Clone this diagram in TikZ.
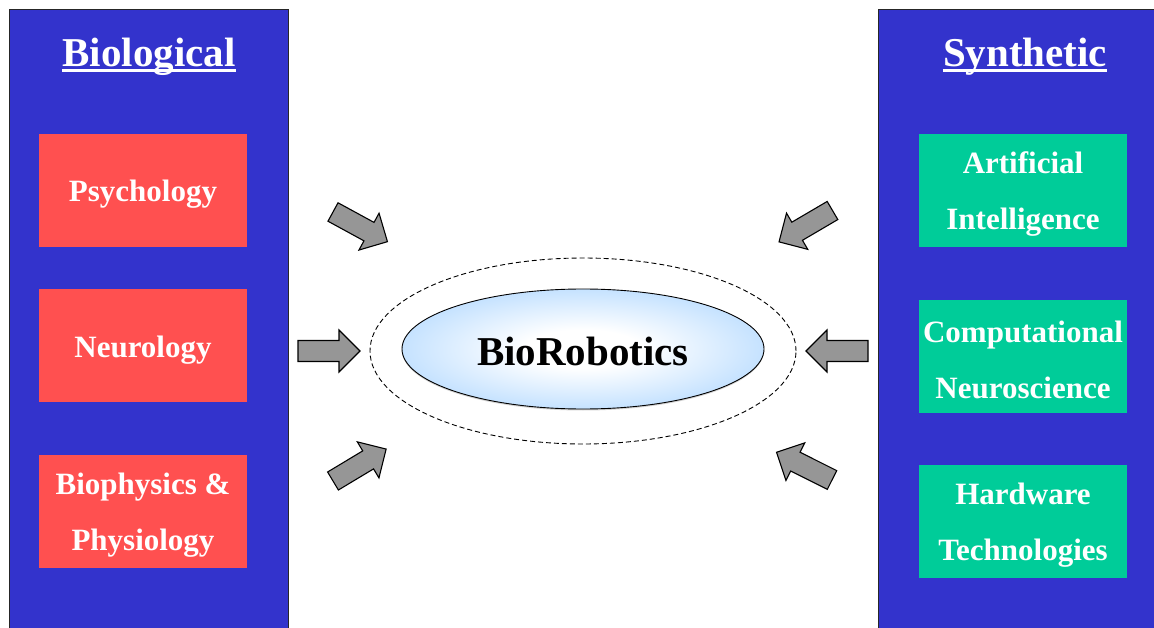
\documentclass[tikz,border=0pt]{standalone}
\usepackage{fontspec}
\setmainfont{Liberation Serif}
\usetikzlibrary{shapes.geometric,shadows}
\definecolor{panelblue}{HTML}{3333CC}
\definecolor{boxred}{HTML}{FF5050}
\definecolor{boxgreen}{HTML}{00CC99}
\definecolor{arrowgray}{HTML}{969696}
\definecolor{ellblue}{HTML}{99CCFF}
\pgfdeclareradialshading{bioshade}{\pgfpoint{0bp}{0bp}}{color(0bp)=(white); color(8bp)=(white); color(38bp)=(ellblue); color(50bp)=(ellblue)}
\tikzset{
  panel/.style={draw=black!85, line width=1pt, fill=panelblue, anchor=north west, inner sep=0},
  titletext/.style={text=white, inner sep=0, anchor=base, font=\fontsize{41}{45}\selectfont\bfseries},
  ulstyle/.style={white, line width=2.6pt},
  fieldbox/.style={minimum width=208, minimum height=113, inner sep=0},
  boxtext/.style={inner sep=0, text=white, align=center, font=\fontsize{31}{56}\selectfont\bfseries},
  redbox/.style={fieldbox, fill=boxred},
  greenbox/.style={fieldbox, fill=boxgreen},
  arrowshape/.style={draw=black, line width=1.1pt, fill=arrowgray, line join=miter},
  blockarrow/.pic={\draw[arrowshape] (0,-10.5) -- (41,-10.5) -- (41,-21) -- (62,0) -- (41,21) -- (41,10.5) -- (0,10.5) -- cycle;},
}
\begin{document}
\begin{tikzpicture}[x=1pt,y=-1pt]
\clip (0,0) rectangle (1154,628);
\fill[white] (0,0) rectangle (1154,628);

% panels
\node[panel, minimum width=279, minimum height=640] (bio) at (9,9) {};
\node[panel, minimum width=300, minimum height=640] (syn) at (878,9) {};

% titles
\node[titletext] (biot) at (149,67) {Biological};
\draw[ulstyle] ([yshift=-3.5pt]biot.base west) -- ([yshift=-3.5pt]biot.base east);
\node[titletext] (synt) at (1025,67) {Synthetic};
\draw[ulstyle] ([yshift=-3.5pt]synt.base west) -- ([yshift=-3.5pt]synt.base east);

% left boxes
\node[redbox] (psy) at (143,190.5) {};
\node[boxtext] (psyt) at ([yshift=-4pt]psy.center) {Psychology};
\node[redbox] (neu) at (143,345.5) {};
\node[boxtext] (neut) at ([yshift=-5pt]neu.center) {Neurology};
\node[redbox] (bph) at (143,511.5) {};
\node[boxtext] (bpht) at ([yshift=-4pt]bph.center) {Biophysics \&\\Physiology};

% right boxes
\node[greenbox] (ai) at (1023,190.5) {};
\node[boxtext] (ait) at ([yshift=-4pt]ai.center) {Artificial\\Intelligence};
\node[greenbox] (cns) at (1023,356.5) {};
\node[boxtext] (cnst) at ([yshift=-3pt]cns.center) {Computational\\Neuroscience};
\node[greenbox] (hw) at (1023,521.5) {};
\node[boxtext] (hwt) at ([yshift=-4pt]hw.center) {Hardware\\Technologies};

% centre
\node[ellipse, draw=black, dash pattern=on 5pt off 3pt, line width=0.9pt, minimum width=426, minimum height=186, inner sep=0] (halo) at (583,351) {};
\node[ellipse, draw=black, line width=0.9pt, shading=bioshade, minimum width=362, minimum height=120, inner sep=0,
  drop shadow={shadow xshift=0pt, shadow yshift=-1.5pt, opacity=0.35}] (core) at (583,349) {};
\node[inner sep=0, font=\fontsize{41}{45}\selectfont\bfseries] (coret) at ([yshift=-2pt]core.center) {BioRobotics};

% block arrows
\pic[rotate=-28.6] at (333,212) {blockarrow};
\pic at (298,351) {blockarrow};
\pic[rotate=31] at (333,481) {blockarrow};
\pic[rotate=210.4] at (832.5,210.5) {blockarrow};
\pic[rotate=180] at (868,351) {blockarrow};
\pic[rotate=153.4] at (832,480) {blockarrow};
\end{tikzpicture}
\end{document}
